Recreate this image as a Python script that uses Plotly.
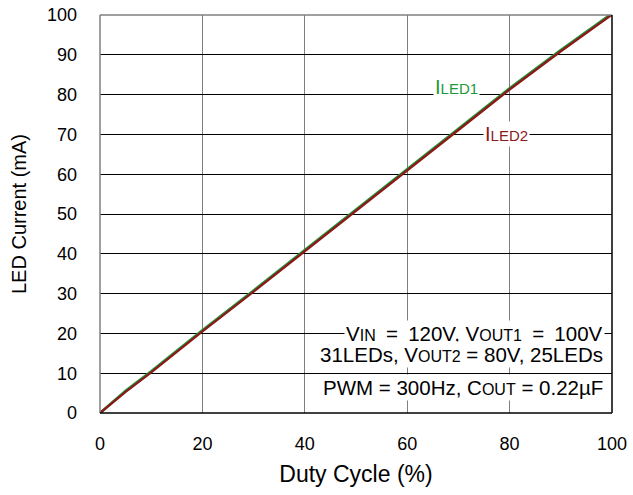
import plotly.graph_objects as go

# Duty cycle sweep (%) and measured LED currents (mA)
duty = [0, 5, 10, 20, 30, 40, 50, 60, 70, 80, 90, 100]
iled1 = [0, 5.6, 10.5, 20.8, 30.8, 40.9, 51.0, 61.3, 71.4, 81.6, 91.2, 100.4]
iled2 = [0, 5.3, 10.2, 20.5, 30.5, 40.6, 50.7, 61.0, 71.1, 81.3, 90.9, 100.1]

x_ticks = [0, 20, 40, 60, 80, 100]
y_ticks = [0, 10, 20, 30, 40, 50, 60, 70, 80, 90, 100]

GREEN = "#1a9a3a"
RED = "#8b1a1a"
FONT = "Liberation Sans, Arial, sans-serif"
EN = "\u2002"  # wider spacing around "=" on the first condition line


def sub(s, size):
    """Smaller, near-baseline subscript text."""
    return f"<span style='font-size:{size}px'>{s}</span>"


fig = go.Figure()
fig.add_trace(go.Scatter(x=duty, y=iled1, mode="lines",
                         line=dict(color=GREEN, width=2.6), showlegend=False))
fig.add_trace(go.Scatter(x=duty, y=iled2, mode="lines",
                         line=dict(color=RED, width=2.4), showlegend=False))

fig.update_layout(
    width=633, height=495,
    margin=dict(l=100, r=21, t=15, b=82),
    plot_bgcolor="white", paper_bgcolor="white",
    font=dict(family=FONT, color="black", size=18),
    xaxis=dict(range=[0, 100], tickvals=x_ticks, showgrid=True,
               gridcolor="#7f7f7f", gridwidth=1, zeroline=False,
               showline=False, ticks="", ticklabelstandoff=18, automargin=False,
               title=dict(text="Duty Cycle (%)", font=dict(size=23), standoff=12)),
    yaxis=dict(range=[0, 100], tickvals=y_ticks, showgrid=True,
               gridcolor="black", gridwidth=1, zeroline=False,
               showline=False, ticks="", ticklabelstandoff=22, automargin=False,
               title=dict(text="LED Current (mA)", font=dict(size=20), standoff=14)),
)

# Plot frame: grey left/top, black bottom/right
fig.add_shape(type="line", xref="paper", yref="paper", x0=0, x1=0, y0=0, y1=1,
              line=dict(color="#7f7f7f", width=1.5))
fig.add_shape(type="line", xref="paper", yref="paper", x0=0, x1=1, y0=1, y1=1,
              line=dict(color="#7f7f7f", width=1.5))
fig.add_shape(type="line", xref="paper", yref="paper", x0=0, x1=1, y0=0, y1=0,
              line=dict(color="black", width=1.5))
fig.add_shape(type="line", xref="paper", yref="paper", x0=1, x1=1, y0=0, y1=1,
              line=dict(color="black", width=1.5))

# Curve labels
fig.add_annotation(x=69.7, y=81.9, text="I" + sub("LED1", 15), showarrow=False,
                   font=dict(color=GREEN, size=20), bgcolor="white", borderpad=1)
fig.add_annotation(x=79.3, y=70.2, text="I" + sub("LED2", 15), showarrow=False,
                   font=dict(color=RED, size=20), bgcolor="white", borderpad=1)

# Test conditions
conditions = [
    ("V" + sub("IN", 16) + f"{EN}={EN}120V, V" + sub("OUT1", 16) + f"{EN}={EN}100V", 20.1),
    ("31LEDs, V" + sub("OUT2", 16) + " = 80V, 25LEDs", 14.6),
    ("PWM = 300Hz, C" + sub("OUT", 16) + " = 0.22µF", 6.3),
]
for txt, yv in conditions:
    fig.add_annotation(x=98.6, y=yv, xanchor="right", text=txt, showarrow=False,
                       font=dict(size=20.5), bgcolor="white", borderpad=1)

fig.write_html("out.html")
